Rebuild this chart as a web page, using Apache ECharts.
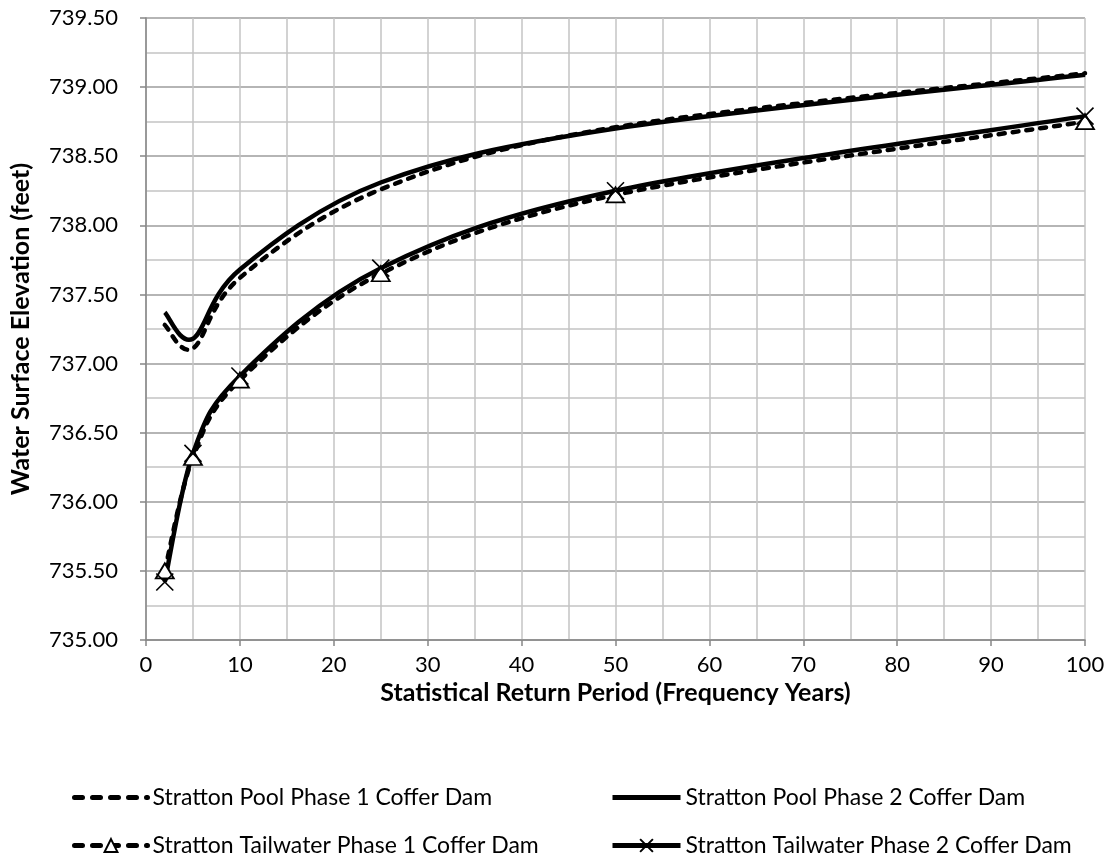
<!DOCTYPE html>
<html>
<head>
<meta charset="utf-8">
<script src="https://cdn.jsdelivr.net/npm/echarts@6/dist/echarts.min.js"></script>
<style>
html,body{margin:0;padding:0;background:#fff;}
#chart{width:1111px;height:863px;}
</style>
</head>
<body>
<div id="chart"></div>
<script>
const returnPeriods = [2, 5, 10, 25, 50, 100];
const poolPhase1 = [737.28, 737.11, 737.62, 738.26, 738.71, 739.10];
const poolPhase2 = [737.37, 737.18, 737.68, 738.31, 738.70, 739.09];
const tailPhase1 = [735.50, 736.32, 736.88, 737.65, 738.22, 738.75];
const tailPhase2 = [735.42, 736.35, 736.91, 737.69, 738.25, 738.79];
const seriesNames = [
  'Stratton Pool Phase 1 Coffer Dam',
  'Stratton Pool Phase 2 Coffer Dam',
  'Stratton Tailwater Phase 1 Coffer Dam',
  'Stratton Tailwater Phase 2 Coffer Dam'
];

const FONT = 'Lato';
function pairs(ys){ return returnPeriods.map((x,i)=>[x, ys[i]]); }

const LW = 4.5;
const DASH = [6, 8];
const LEG_DASH = [8, 10];

// Excel-like smoothed curve (Catmull-Rom Bezier) built from axis-converted points
function smoothPathRenderer(ys, dashed){
  return function(params, api){
    if (params.dataIndex !== 0) return null;
    const pts = returnPeriods.map((x,i)=>api.coord([x, ys[i]]));
    let d = 'M' + pts[0][0] + ',' + pts[0][1];
    for (let i = 0; i < pts.length - 1; i++){
      const p0 = pts[i-1] || pts[i];
      const p1 = pts[i];
      const p2 = pts[i+1];
      const p3 = pts[i+2] || pts[i+1];
      const c1x = p1[0] + (p2[0]-p0[0])/6, c1y = p1[1] + (p2[1]-p0[1])/6;
      const c2x = p2[0] - (p3[0]-p1[0])/6, c2y = p2[1] - (p3[1]-p1[1])/6;
      d += 'C' + c1x + ',' + c1y + ',' + c2x + ',' + c2y + ',' + p2[0] + ',' + p2[1];
    }
    return {
      type:'path',
      shape:{pathData:d},
      style:{fill:'none', stroke:'#000', lineWidth:LW,
             lineDash: dashed ? DASH : null, lineCap: dashed ? 'round' : 'butt', lineJoin:'round'}
    };
  };
}

const chart = echarts.init(document.getElementById('chart'), null, {renderer:'canvas'});

const axisColor = '#868686';
const legendText = {fontFamily:FONT, fontSize:23, color:'#000'};

chart.setOption({
  backgroundColor:'#fff',
  animation:false,
  textStyle:{fontFamily:FONT},
  grid:{left:143, right:26, top:18, bottom:223, containLabel:false},
  xAxis:{
    type:'value', min:0, max:100, interval:10,
    name:'Statistical Return Period (Frequency Years)',
    nameLocation:'middle', nameGap:35,
    nameTextStyle:{fontFamily:FONT, fontWeight:'bold', fontSize:25, color:'#000'},
    axisLine:{show:true, lineStyle:{color:axisColor, width:1.5}},
    axisTick:{show:true, inside:false, length:6, lineStyle:{color:axisColor, width:1.5}},
    axisLabel:{fontFamily:FONT, fontSize:22, color:'#000', margin:14},
    splitLine:{show:true, lineStyle:{color:'#c4c4c4', width:1.5}},
    minorTick:{show:false, splitNumber:2},
    minorSplitLine:{show:true, lineStyle:{color:'#c4c4c4', width:1.5}}
  },
  yAxis:{
    type:'value', min:735, max:739.5, interval:0.5,
    name:'Water Surface Elevation (feet)',
    nameLocation:'middle', nameGap:113, nameRotate:90,
    nameTextStyle:{fontFamily:FONT, fontWeight:'bold', fontSize:25, color:'#000'},
    axisLine:{show:true, lineStyle:{color:axisColor, width:1.5}},
    axisTick:{show:true, inside:false, length:6, lineStyle:{color:axisColor, width:1.5}},
    axisLabel:{fontFamily:FONT, fontSize:22, color:'#000', margin:28, formatter:v=>v.toFixed(2)},
    splitLine:{show:true, lineStyle:{color:'#9d9d9d', width:1.5}},
    minorTick:{show:false, splitNumber:2},
    minorSplitLine:{show:true, lineStyle:{color:'#c4c4c4', width:1.5}}
  },
  legend:[
    {orient:'vertical', left:72, top:786, padding:0,
     itemWidth:73, itemHeight:16, itemGap:25, textStyle:legendText,
     data:[
       {name:seriesNames[0], itemStyle:{opacity:0},
        lineStyle:{color:'#000', width:5, type:LEG_DASH, cap:'round', opacity:1}},
       {name:seriesNames[2],
        lineStyle:{color:'#000', width:5, type:LEG_DASH, cap:'round', opacity:1}}
     ]},
    {orient:'vertical', left:610, top:786, padding:0,
     itemWidth:68, itemHeight:16, itemGap:25, textStyle:legendText,
     data:[
       {name:seriesNames[1], itemStyle:{opacity:0},
        lineStyle:{color:'#000', width:5, type:'solid', opacity:1}},
       {name:seriesNames[3],
        lineStyle:{color:'#000', width:5, type:'solid', opacity:1}}
     ]}
  ],
  series:[
    {type:'custom', coordinateSystem:'cartesian2d', silent:true, z:2,
     data:[[0,735]], renderItem:smoothPathRenderer(poolPhase1, true)},
    {type:'custom', coordinateSystem:'cartesian2d', silent:true, z:2,
     data:[[0,735]], renderItem:smoothPathRenderer(poolPhase2, false)},
    {type:'custom', coordinateSystem:'cartesian2d', silent:true, z:2,
     data:[[0,735]], renderItem:smoothPathRenderer(tailPhase1, true)},
    {type:'custom', coordinateSystem:'cartesian2d', silent:true, z:2,
     data:[[0,735]], renderItem:smoothPathRenderer(tailPhase2, false)},

    {name:seriesNames[0], type:'line', data:pairs(poolPhase1), z:5,
     color:'#000', showSymbol:false, symbol:'circle',
     itemStyle:{color:'#000', opacity:0},
     lineStyle:{color:'#000', width:LW, type:DASH, opacity:0}},
    {name:seriesNames[1], type:'line', data:pairs(poolPhase2), z:5,
     color:'#000', showSymbol:false, symbol:'circle',
     itemStyle:{color:'#000', opacity:0},
     lineStyle:{color:'#000', width:LW, type:'solid', opacity:0}},
    {name:seriesNames[2], type:'line', data:pairs(tailPhase1), z:5,
     color:'#000', symbol:'triangle', symbolSize:[18,15],
     itemStyle:{color:'#fff', borderColor:'#000', borderWidth:1.8},
     lineStyle:{color:'#000', width:LW, type:DASH, opacity:0}},
    {name:seriesNames[3], type:'line', data:pairs(tailPhase2), z:6,
     color:'#000', symbol:'path://M0,0L10,10M10,0L0,10', symbolSize:17,
     itemStyle:{color:'#000', borderColor:'#000', borderWidth:1.6},
     lineStyle:{color:'#000', width:LW, type:'solid', opacity:0}}
  ]
});
</script>
</body>
</html>
